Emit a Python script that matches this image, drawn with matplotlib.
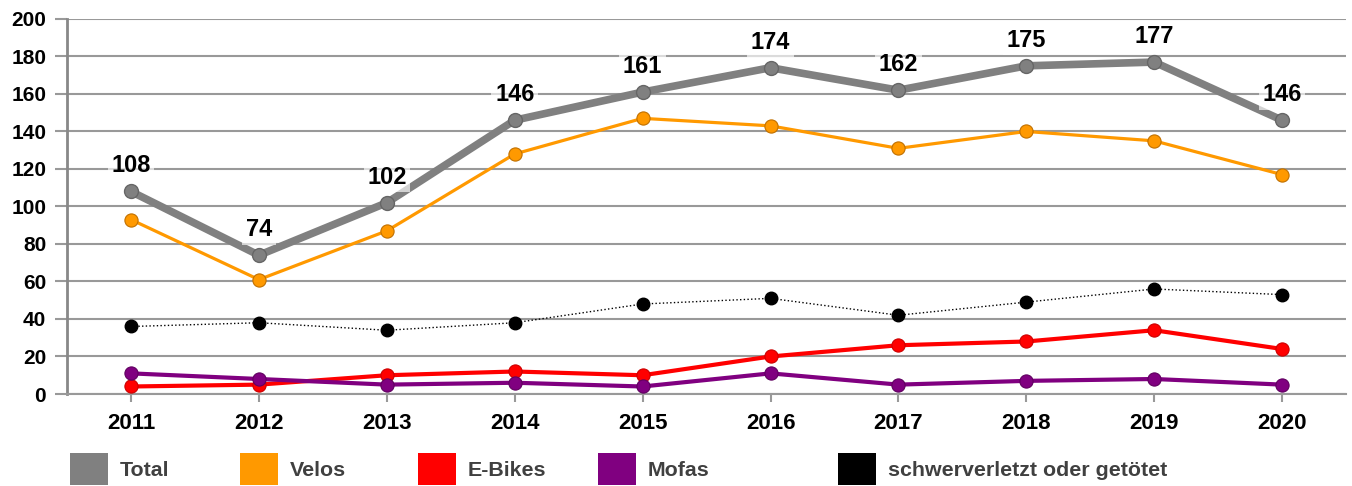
import matplotlib.pyplot as plt
from matplotlib.patches import Patch

plt.rcParams['font.family'] = ['Liberation Sans', 'DejaVu Sans']

years = ['2011', '2012', '2013', '2014', '2015', '2016', '2017', '2018', '2019', '2020']
total = [108, 74, 102, 146, 161, 174, 162, 175, 177, 146]
velos = [93, 61, 87, 128, 147, 143, 131, 140, 135, 117]
ebikes = [4, 5, 10, 12, 10, 20, 26, 28, 34, 24]
mofas = [11, 8, 5, 6, 4, 11, 5, 7, 8, 5]
schwer = [36, 38, 34, 38, 48, 51, 42, 49, 56, 53]

labels = ['Total', 'Velos', 'E-Bikes', 'Mofas', 'schwerverletzt oder getötet']
colors = ['#808080', '#ff9900', '#ff0000', '#800080', '#000000']

fig = plt.figure(figsize=(13.52, 4.86), dpi=100)
ax = fig.add_axes([0.0496, 0.1893, 0.946, 0.7717])

x = range(len(years))
ax.plot(x, total, color=colors[0], lw=5.5, marker='o', ms=10,
        mfc=colors[0], mec='#666666', mew=1, zorder=3)
ax.plot(x, velos, color=colors[1], lw=2.3, marker='o', ms=9.5,
        mfc=colors[1], mec='#c07000', mew=0.8, zorder=3)
ax.plot(x, ebikes, color=colors[2], lw=3, marker='o', ms=9.5,
        mfc=colors[2], mec='#cc0000', mew=0.8, zorder=3)
ax.plot(x, mofas, color=colors[3], lw=3, marker='o', ms=9.5,
        mfc=colors[3], mec='#600060', mew=0.8, zorder=3)
ax.plot(x, schwer, color=colors[4], lw=1, ls=':', marker='o', ms=9,
        mfc=colors[4], mec='#000000', zorder=3)

for i, v in enumerate(total):
    ax.annotate(str(v), (i, v), xytext=(0, 18.5), textcoords='offset points',
                ha='center', va='center', fontsize=17, fontweight='bold',
                bbox=dict(boxstyle='square,pad=0.15', fc='white', ec='none', alpha=0.65),
                zorder=4)

ax.set_xlim(-0.5, len(years) - 0.5)
ax.set_ylim(0, 200)
ax.set_yticks(range(0, 201, 20))
ax.set_xticks(list(x))
ax.set_xticklabels(years)
ax.grid(axis='y', color='#999999', lw=1.5, zorder=0)
ax.set_axisbelow(True)
for s in ['top', 'right']:
    ax.spines[s].set_visible(False)
ax.spines['left'].set_color('#888888')
ax.spines['left'].set_linewidth(2)
ax.spines['bottom'].set_color('#999999')
ax.spines['bottom'].set_linewidth(1.5)
ax.tick_params(axis='y', length=9, width=1.5, color='#999999', pad=6, labelsize=15)
ax.tick_params(axis='x', length=6, width=1.5, color='#999999', pad=8, labelsize=16)
for t in ax.get_xticklabels() + ax.get_yticklabels():
    t.set_fontweight('bold')

leg_x = [70, 240, 418, 598, 838]
for lab, col, px in zip(labels, colors, leg_x):
    fig.legend(handles=[Patch(fc=col, ec='none')], labels=[lab],
               loc='center left', bbox_to_anchor=(px / 1352, 1 - 469 / 486),
               frameon=False, borderpad=0, borderaxespad=0,
               handlelength=1.77, handleheight=1.88, handletextpad=0.55,
               prop={'size': 15.4, 'weight': 'bold'}, labelcolor='#404040')

fig.savefig('out.png', dpi=100)
